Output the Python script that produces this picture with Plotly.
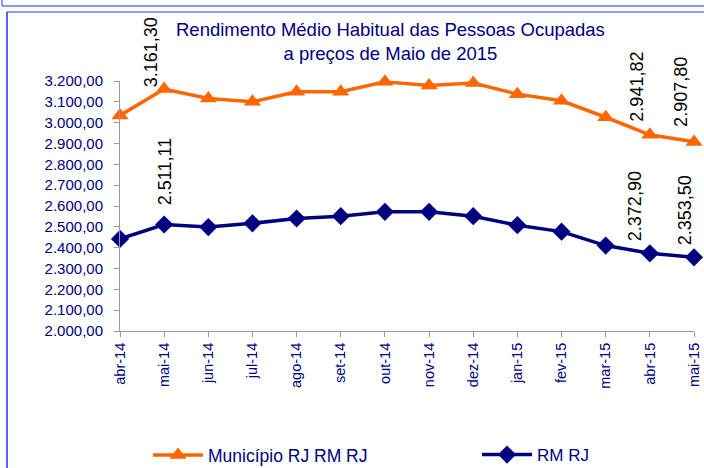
import plotly.graph_objects as go

months = ["abr-14", "mai-14", "jun-14", "jul-14", "ago-14", "set-14", "out-14",
          "nov-14", "dez-14", "jan-15", "fev-15", "mar-15", "abr-15", "mai-15"]
municipio = [3035.0, 3161.30, 3116.0, 3100.0, 3148.0, 3149.0, 3196.0,
             3178.0, 3190.0, 3137.0, 3105.0, 3026.0, 2941.82, 2907.80]
rm_rj = [2442.0, 2511.11, 2499.0, 2517.0, 2540.0, 2551.0, 2572.0,
         2572.0, 2551.0, 2508.0, 2477.0, 2410.0, 2372.90, 2353.50]
y_ticks = [2000, 2100, 2200, 2300, 2400, 2500, 2600, 2700, 2800, 2900, 3000, 3100, 3200]

# labelled points (indices)
labels_mun = [1, 12, 13]
labels_rm = [1, 12, 13]

W, H = 704, 468
ML, MR, MT, MB = 120, 10, 81, 137
PW, PH = W - ML - MR, H - MT - MB

def px(x):
    return (x - ML) / PW

def py(y):
    return (H - MB - y) / PH

ORANGE = "#FF6600"
NAVY = "#000080"
BLUE = "#2a2aff"
FONT = "Liberation Sans, Arial"

def fmt(v):
    s = f"{v:,.2f}"
    return s.replace(",", "X").replace(".", ",").replace("X", ".")

fig = go.Figure()
fig.add_trace(go.Scatter(
    x=months, y=municipio, mode="lines+markers", name="Município RJ RM RJ",
    line=dict(color=ORANGE, width=3.5),
    marker=dict(symbol="triangle-up", size=15, color=ORANGE),
    cliponaxis=False, legend="legend",
))
fig.add_trace(go.Scatter(
    x=months, y=rm_rj, mode="lines+markers", name="RM RJ",
    line=dict(color=NAVY, width=3.5),
    marker=dict(symbol="diamond", size=14, color=NAVY),
    cliponaxis=False, legend="legend2",
))

annotations = []
off_mun = {1: (-13, 0), 12: (-13, 11), 13: (-13, 13)}
off_rm = {1: (1, 17), 12: (-15, 10), 13: (-9, 10)}
for i in labels_mun:
    dx, dy = off_mun[i]
    annotations.append(dict(x=months[i], y=municipio[i], xref="x", yref="y",
                            text=fmt(municipio[i]), textangle=-90, showarrow=False,
                            xanchor="center", yanchor="bottom", xshift=dx, yshift=dy,
                            font=dict(family=FONT, size=18, color="black")))
for i in labels_rm:
    dx, dy = off_rm[i]
    annotations.append(dict(x=months[i], y=rm_rj[i], xref="x", yref="y",
                            text=fmt(rm_rj[i]), textangle=-90, showarrow=False,
                            xanchor="center", yanchor="bottom", xshift=dx, yshift=dy,
                            font=dict(family=FONT, size=18, color="black")))

annotations.append(dict(x=px(390), y=py(41), xref="paper", yref="paper",
                        text="Rendimento Médio Habitual das Pessoas Ocupadas<br>a preços de Maio de 2015",
                        showarrow=False, xanchor="center", yanchor="middle", align="center",
                        font=dict(family=FONT, size=18.5, color=NAVY)))

shapes = [
    dict(type="line", xref="paper", yref="paper", x0=px(2), x1=px(704), y0=py(6), y1=py(6),
         line=dict(color=BLUE, width=1)),
    dict(type="line", xref="paper", yref="paper", x0=px(2), x1=px(2), y0=py(0), y1=py(6),
         line=dict(color=BLUE, width=1)),
    dict(type="line", xref="paper", yref="paper", x0=px(7), x1=px(704), y0=py(12), y1=py(12),
         line=dict(color=BLUE, width=1)),
    dict(type="line", xref="paper", yref="paper", x0=px(7), x1=px(7), y0=py(12), y1=py(468),
         line=dict(color=BLUE, width=1.5)),
]

legend_common = dict(orientation="h", yanchor="middle",
                     bgcolor="rgba(0,0,0,0)", itemwidth=50)

fig.update_layout(
    width=W, height=H,
    margin=dict(l=ML, r=MR, t=MT, b=MB, pad=0, autoexpand=False),
    paper_bgcolor="white", plot_bgcolor="white",
    separators=",.",
    showlegend=True,
    legend=dict(x=px(148), y=py(455), xanchor="left",
                font=dict(family=FONT, size=17.5, color=NAVY), **legend_common),
    legend2=dict(x=px(477), y=py(455), xanchor="left",
                 font=dict(family=FONT, size=17, color=NAVY), **legend_common),
    annotations=annotations,
    shapes=shapes,
    xaxis=dict(type="category", range=[0, 13], showgrid=False, zeroline=False,
               showline=True, linecolor="#999999", linewidth=1,
               ticks="outside", ticklen=5, tickcolor="#999999",
               tickangle=-90, automargin=False,
               tickfont=dict(family=FONT, size=14.5, color=NAVY)),
    yaxis=dict(range=[2000, 3200], tickvals=y_ticks, tickformat=",.2f",
               showgrid=False, zeroline=False, automargin=False,
               showline=True, linecolor="#999999", linewidth=1,
               ticks="outside", ticklen=5, tickcolor="#999999",
               ticklabelstandoff=8,
               tickfont=dict(family=FONT, size=15, color=NAVY)),
)

fig.write_html("out.html", config={"displayModeBar": False},
               post_script="document.body.style.margin='0';document.body.style.padding='0';")
